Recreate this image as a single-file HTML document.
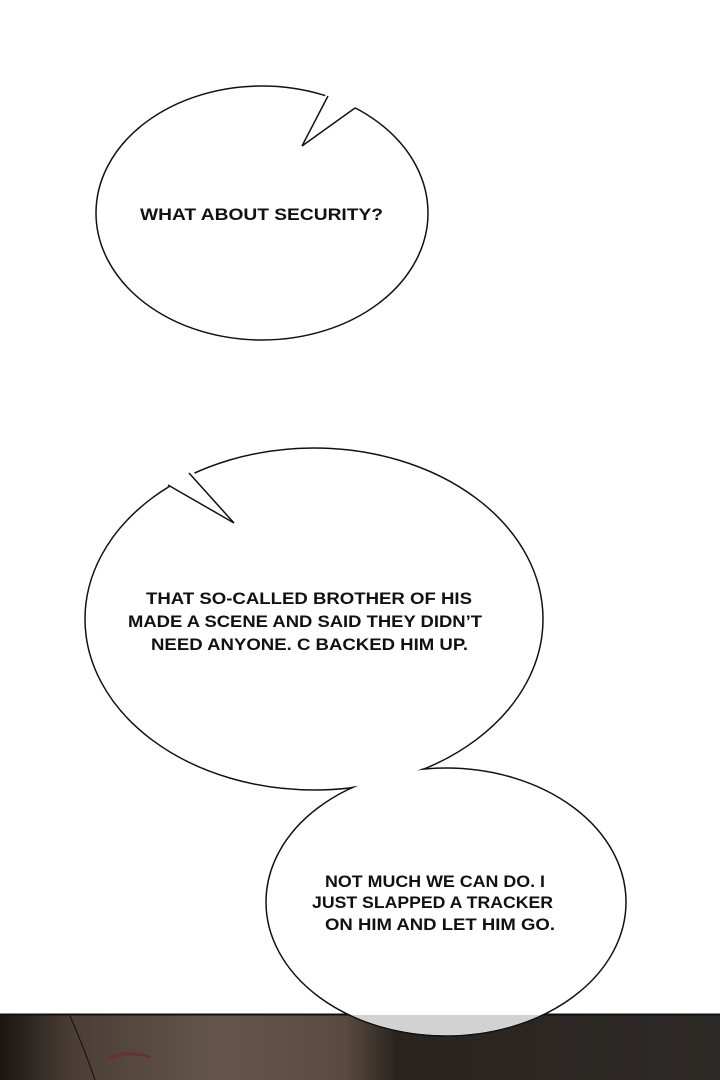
<!DOCTYPE html>
<html><head><meta charset="utf-8"><style>
html,body{margin:0;padding:0;background:#fff;}
svg{display:block;}
text{font-family:"Liberation Sans",sans-serif;font-weight:bold;font-size:17px;fill:#111;}
</style></head><body>
<svg width="720" height="1080" viewBox="0 0 720 1080" xmlns="http://www.w3.org/2000/svg">
<defs>
<linearGradient id="bg" x1="0" y1="0" x2="1" y2="0">
<stop offset="0" stop-color="#1a1612"/>
<stop offset="0.1" stop-color="#4a3e36"/>
<stop offset="0.3" stop-color="#65554b"/>
<stop offset="0.48" stop-color="#5a4a40"/>
<stop offset="0.55" stop-color="#2a2420"/>
<stop offset="1" stop-color="#2e2a27"/>
</linearGradient>
</defs>
<rect x="0" y="0" width="720" height="1080" fill="#fff"/>
<rect x="0" y="1014" width="720" height="66" fill="url(#bg)"/>
<line x1="0" y1="1014.5" x2="720" y2="1014.5" stroke="#111" stroke-width="2"/>
<path d="M70 1016 Q85 1050 95 1080" stroke="#111" fill="none" stroke-width="1"/>
<path d="M108 1058 Q130 1050 150 1057" stroke="#6a3030" fill="none" stroke-width="3"/>

<ellipse cx="262" cy="213" rx="166" ry="127" fill="#fff" stroke="#111" stroke-width="1.5"/>
<polygon points="326,94 302,146 357,106 345,98" fill="#fff"/>
<polyline points="328,96 302,146 355,108" fill="none" stroke="#111" stroke-width="1.5"/>
<text x="140" y="220" textLength="243" lengthAdjust="spacingAndGlyphs">WHAT ABOUT SECURITY?</text>

<ellipse cx="314" cy="619" rx="229" ry="171" fill="#fff" stroke="#111" stroke-width="1.5"/>
<ellipse cx="446" cy="902" rx="180" ry="134" fill="#fff" stroke="#111" stroke-width="1.5"/>
<ellipse cx="314" cy="619" rx="228" ry="170" fill="#fff"/>
<ellipse cx="446" cy="902" rx="179" ry="133" fill="#fff"/>

<polygon points="165,484 234,523 192,470 178,474" fill="#fff"/>
<polyline points="168,485 234,523 189,473" fill="none" stroke="#111" stroke-width="1.5"/>
<clipPath id="c"><rect x="0" y="1015" width="720" height="65"/></clipPath>
<ellipse cx="446" cy="902" rx="179" ry="133" fill="#d2d2d2" clip-path="url(#c)"/>

<text x="146" y="604" textLength="326" lengthAdjust="spacingAndGlyphs">THAT SO-CALLED BROTHER OF HIS</text>
<text x="128" y="627" textLength="354" lengthAdjust="spacingAndGlyphs">MADE A SCENE AND SAID THEY DIDN’T</text>
<text x="151" y="650" textLength="317" lengthAdjust="spacingAndGlyphs">NEED ANYONE. C BACKED HIM UP.</text>

<text x="325" y="887" textLength="220" lengthAdjust="spacingAndGlyphs">NOT MUCH WE CAN DO. I</text>
<text x="312" y="908" textLength="241" lengthAdjust="spacingAndGlyphs">JUST SLAPPED A TRACKER</text>
<text x="325" y="930" textLength="230" lengthAdjust="spacingAndGlyphs">ON HIM AND LET HIM GO.</text>
</svg>
</body></html>
